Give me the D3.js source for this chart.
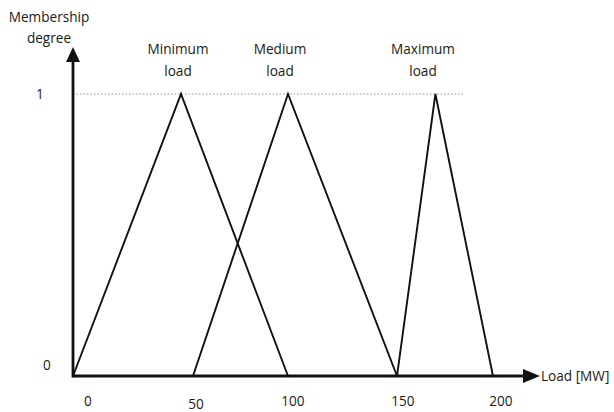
<!DOCTYPE html>
<html>
<head>
<meta charset="utf-8">
<script src="https://cdn.jsdelivr.net/npm/d3@7"></script>
<style>
html,body{margin:0;padding:0;background:#fff;}
svg text{font-family:"Open Sans","Noto Sans",sans-serif;fill:#1a1a1a;}
</style>
</head>
<body>
<svg id="chart" width="614" height="412"></svg>
<script>
// Data
const setNames = ["Minimum load", "Medium load", "Maximum load"];
const setStart = [0, 50, 150];
const setPeak  = [45, 100, 170];
const setEnd   = [100, 150, 200];
const xTicks = [0, 50, 100, 150, 200];
const xTickLabels = ["0", "50", "100", "150", "200"];
const yTicks = [0, 1];
const xTitle = "Load [MW]";
const yTitle = ["Membership", "degree"];

const svg = d3.select("#chart");
const fs = 13.6;

// Hand-drawn (non-uniform) horizontal spacing of the original figure
const x = d3.scaleLinear().domain(xTicks).range([73, 193, 288, 397, 493]);
const y = d3.scaleLinear().domain([0, 1]).range([376, 94]);

// dotted line at membership 1
svg.append("line")
  .attr("x1", x(0)).attr("x2", 463)
  .attr("y1", y(1)).attr("y2", y(1))
  .attr("stroke", "#9a9a9a").attr("stroke-width", 1.2)
  .attr("stroke-dasharray", "1.6,1.9");

// triangles
const line = d3.line().x(d => x(d[0])).y(d => y(d[1]));
setNames.forEach((name, i) => {
  svg.append("path")
    .attr("d", line([[setStart[i], 0], [setPeak[i], 1], [setEnd[i], 0]]))
    .attr("fill", "none").attr("stroke", "#111").attr("stroke-width", 1.9)
    .attr("stroke-linejoin", "miter");
});

// axes
svg.append("line").attr("x1", x(0)).attr("x2", 525).attr("y1", y(0)).attr("y2", y(0))
  .attr("stroke", "#111").attr("stroke-width", 2.8);
svg.append("path").attr("d", `M523,${y(0)-7}L540,${y(0)}L523,${y(0)+7}Z`).attr("fill", "#111");
svg.append("line").attr("x1", x(0)).attr("x2", x(0)).attr("y1", y(0)+1.4).attr("y2", 60)
  .attr("stroke", "#111").attr("stroke-width", 2.8);
svg.append("path").attr("d", `M${x(0)-7},62L${x(0)},47L${x(0)+7},62Z`).attr("fill", "#111");

// x tick labels (offsets as in original figure)
const labelDx = [15, 3, 5, 6, 8];
const labelDy = [0, 3, 0, 0, 0];
svg.selectAll(".xt").data(xTicks).enter().append("text")
  .attr("x", (d, i) => x(d) + labelDx[i])
  .attr("y", (d, i) => 406 + labelDy[i])
  .attr("text-anchor", "middle").attr("font-size", fs)
  .text((d, i) => xTickLabels[i]);

// y tick labels
svg.append("text").attr("x", 47).attr("y", y(0) - 6).attr("text-anchor", "middle")
  .attr("font-size", fs).text(yTicks[0]);
svg.append("text").attr("x", 40).attr("y", y(1) + 5).attr("text-anchor", "middle")
  .attr("font-size", fs).text(yTicks[1]);

// axis titles
svg.append("text").attr("x", 541).attr("y", y(0) + 5).attr("font-size", fs).text(xTitle);
yTitle.forEach((t, i) => {
  svg.append("text").attr("x", 49).attr("y", 22 + i * 21).attr("text-anchor", "middle")
    .attr("font-size", fs).text(t);
});

// set labels above peaks
const labelCx = [178, 280, 423];
setNames.forEach((name, i) => {
  const parts = name.split(" ");
  parts.forEach((p, j) => {
    svg.append("text").attr("x", labelCx[i]).attr("y", 54 + j * 22)
      .attr("text-anchor", "middle").attr("font-size", fs).text(p);
  });
});
</script>
</body>
</html>
